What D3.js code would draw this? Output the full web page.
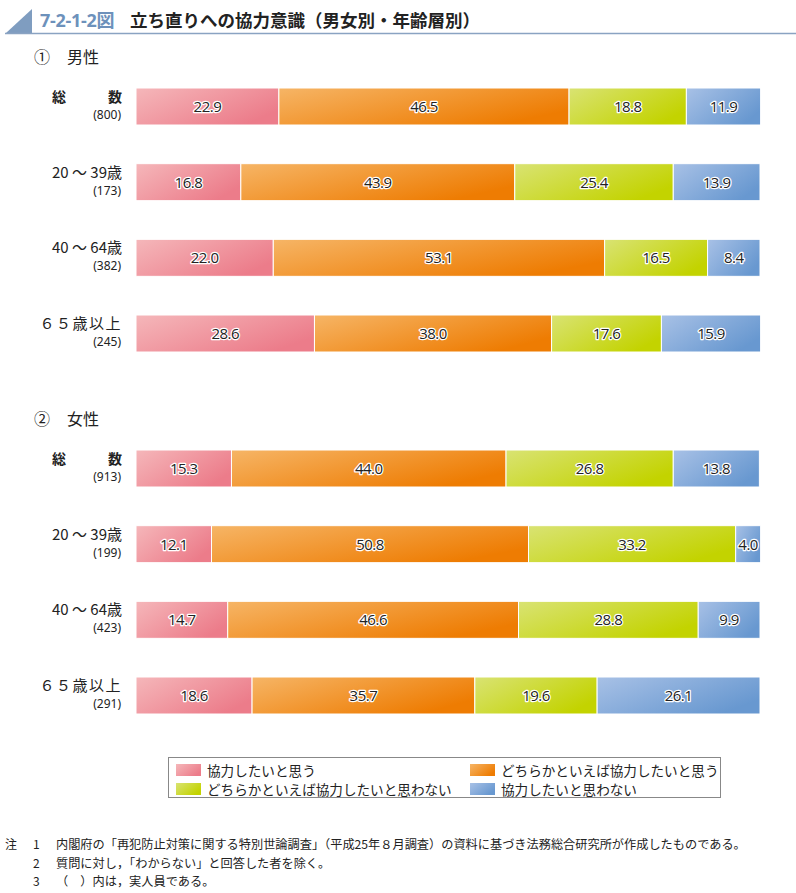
<!DOCTYPE html>
<html><head><meta charset="utf-8">
<script src="https://cdn.jsdelivr.net/npm/d3@7"></script>
<style>body{margin:0;background:#fff;}svg{display:block;font-family:"Noto Sans CJK JP","Noto Sans",sans-serif;}</style>
</head><body><svg id="c" width="796" height="893"></svg>
<script>
const seriesNames = ["協力したいと思う","どちらかといえば協力したいと思う","どちらかといえば協力したいと思わない","協力したいと思わない"];
const groupTitles = ["男性","女性"];
const groupMarks = ["①","②"];
const categories = ["総数","20～39歳","40～64歳","65歳以上"];
const maleCounts = ["(800)","(173)","(382)","(245)"];
const femaleCounts = ["(913)","(199)","(423)","(291)"];
const maleValues = [[22.9,46.5,18.8,11.9],[16.8,43.9,25.4,13.9],[22.0,53.1,16.5,8.4],[28.6,38.0,17.6,15.9]];
const femaleValues = [[15.3,44.0,26.8,13.8],[12.1,50.8,33.2,4.0],[14.7,46.6,28.8,9.9],[18.6,35.7,19.6,26.1]];
const notes = ["内閣府の「再犯防止対策に関する特別世論調査」（平成25年８月調査）の資料に基づき法務総合研究所が作成したものである。","質問に対し，「わからない」と回答した者を除く。","（　）内は，実人員である。"];

const svg = d3.select("#c");
const colors = [["#f5b7ba","#ec7c8a"],["#f6b566","#ee7c02"],["#d9e373","#c3d300"],["#a8c1e6","#6898d0"]];
const defs = svg.append("defs");
colors.forEach((c,i)=>{
  const g = defs.append("linearGradient").attr("id","g"+i).attr("x1","0").attr("y1","0").attr("x2","1").attr("y2","0.6");
  g.append("stop").attr("offset","0").attr("stop-color",c[0]);
  g.append("stop").attr("offset","1").attr("stop-color",c[1]);
});

// Title
svg.append("path").attr("d","M6,33 L32,9 L32,33 Z").attr("fill","#7f9dc0");
svg.append("line").attr("x1",5).attr("x2",796).attr("y1",33.5).attr("y2",33.5).attr("stroke","#8aa3c2").attr("stroke-width",1.5);
svg.append("text").attr("x",40).attr("y",27).attr("font-size",18).attr("font-weight","bold").attr("fill","#6d91bb").attr("font-family","'Open Sans','Noto Sans CJK JP',sans-serif").attr("letter-spacing","-0.3px").text("7-2-1-2図");
svg.append("text").attr("x",130).attr("y",27).attr("font-size",17.5).attr("font-weight","bold").attr("fill","#222").text("立ち直りへの協力意識（男女別・年齢層別）");

const x = d3.scaleLinear().domain([0,100]).range([136,760]);

function drawGroup(top, mark, title, values, counts){
  svg.append("text").attr("x",34).attr("y",top).attr("font-size",16).attr("fill","#222").text(mark);
  svg.append("text").attr("x",67).attr("y",top).attr("font-size",16).attr("fill","#222").text(title);
  const yy = d3.scalePoint().domain(categories).range([top+25, top+25+227]);
  categories.forEach((cat,ci)=>{
    const y0 = yy(cat), h = 37;
    let acc = 0;
    values[ci].forEach((v,si)=>{
      const x0 = x(acc), x1 = x(acc+v);
      svg.append("rect").attr("x",x0).attr("y",y0).attr("width",x1-x0).attr("height",h).attr("fill","url(#g"+si+")").attr("stroke","#fff").attr("stroke-width",1);
      svg.append("text").attr("x",(x0+x1)/2).attr("y",y0+h/2+5.5).attr("text-anchor","middle").attr("font-size",15)
        .attr("font-family","'Open Sans','Noto Sans',sans-serif").attr("letter-spacing","-0.5px")
        .attr("fill","#222").attr("stroke","#fff").attr("stroke-width",2.5).attr("paint-order","stroke").attr("stroke-linejoin","round").text(v.toFixed(1));
      acc += v;
    });
    // category label
    if(cat==="総数"){
      svg.append("text").attr("x",52).attr("y",y0+14).attr("font-size",14).attr("font-weight","bold").attr("fill","#222").text("総");
      svg.append("text").attr("x",122).attr("y",y0+14).attr("text-anchor","end").attr("font-size",14).attr("font-weight","bold").attr("fill","#222").text("数");
    } else if(cat==="65歳以上"){
      svg.append("text").attr("x",122).attr("y",y0+14).attr("text-anchor","end").attr("font-size",15).attr("fill","#222").attr("letter-spacing","1.5px").text("６５歳以上");
    } else {
      svg.append("text").attr("x",122).attr("y",y0+14).attr("text-anchor","end").attr("font-size",15).attr("fill","#222").text(cat.replace("～"," ～ "));
    }
    svg.append("text").attr("x",121).attr("y",y0+31).attr("text-anchor","end").attr("font-size",12).attr("font-family","'Noto Sans',sans-serif").attr("fill","#222").text(counts[ci]);
  });
}
drawGroup(63, groupMarks[0], groupTitles[0], maleValues, maleCounts);
drawGroup(425, groupMarks[1], groupTitles[1], femaleValues, femaleCounts);

// Legend
svg.append("rect").attr("x",168.5).attr("y",757.5).attr("width",552).attr("height",40).attr("fill","#fff").attr("stroke","#888").attr("stroke-width",1);
const lpos = [[176,776],[470,776],[176,795],[470,795]];
seriesNames.forEach((n,i)=>{
  svg.append("rect").attr("x",lpos[i][0]).attr("y",lpos[i][1]-12).attr("width",25).attr("height",12).attr("fill","url(#g"+i+")");
  svg.append("text").attr("x",lpos[i][0]+31).attr("y",lpos[i][1]).attr("font-size",13.6).attr("fill","#222").text(n);
});

// Notes
svg.append("text").attr("x",5).attr("y",849).attr("font-size",12).attr("fill","#222").text("注");
notes.forEach((n,i)=>{
  const yv = 849 + i*18.5;
  svg.append("text").attr("x",33).attr("y",yv).attr("font-size",12).attr("fill","#222").text(String(i+1));
  svg.append("text").attr("x",56).attr("y",yv).attr("font-size",12.2).attr("fill","#222").text(n);
});
</script></body></html>
